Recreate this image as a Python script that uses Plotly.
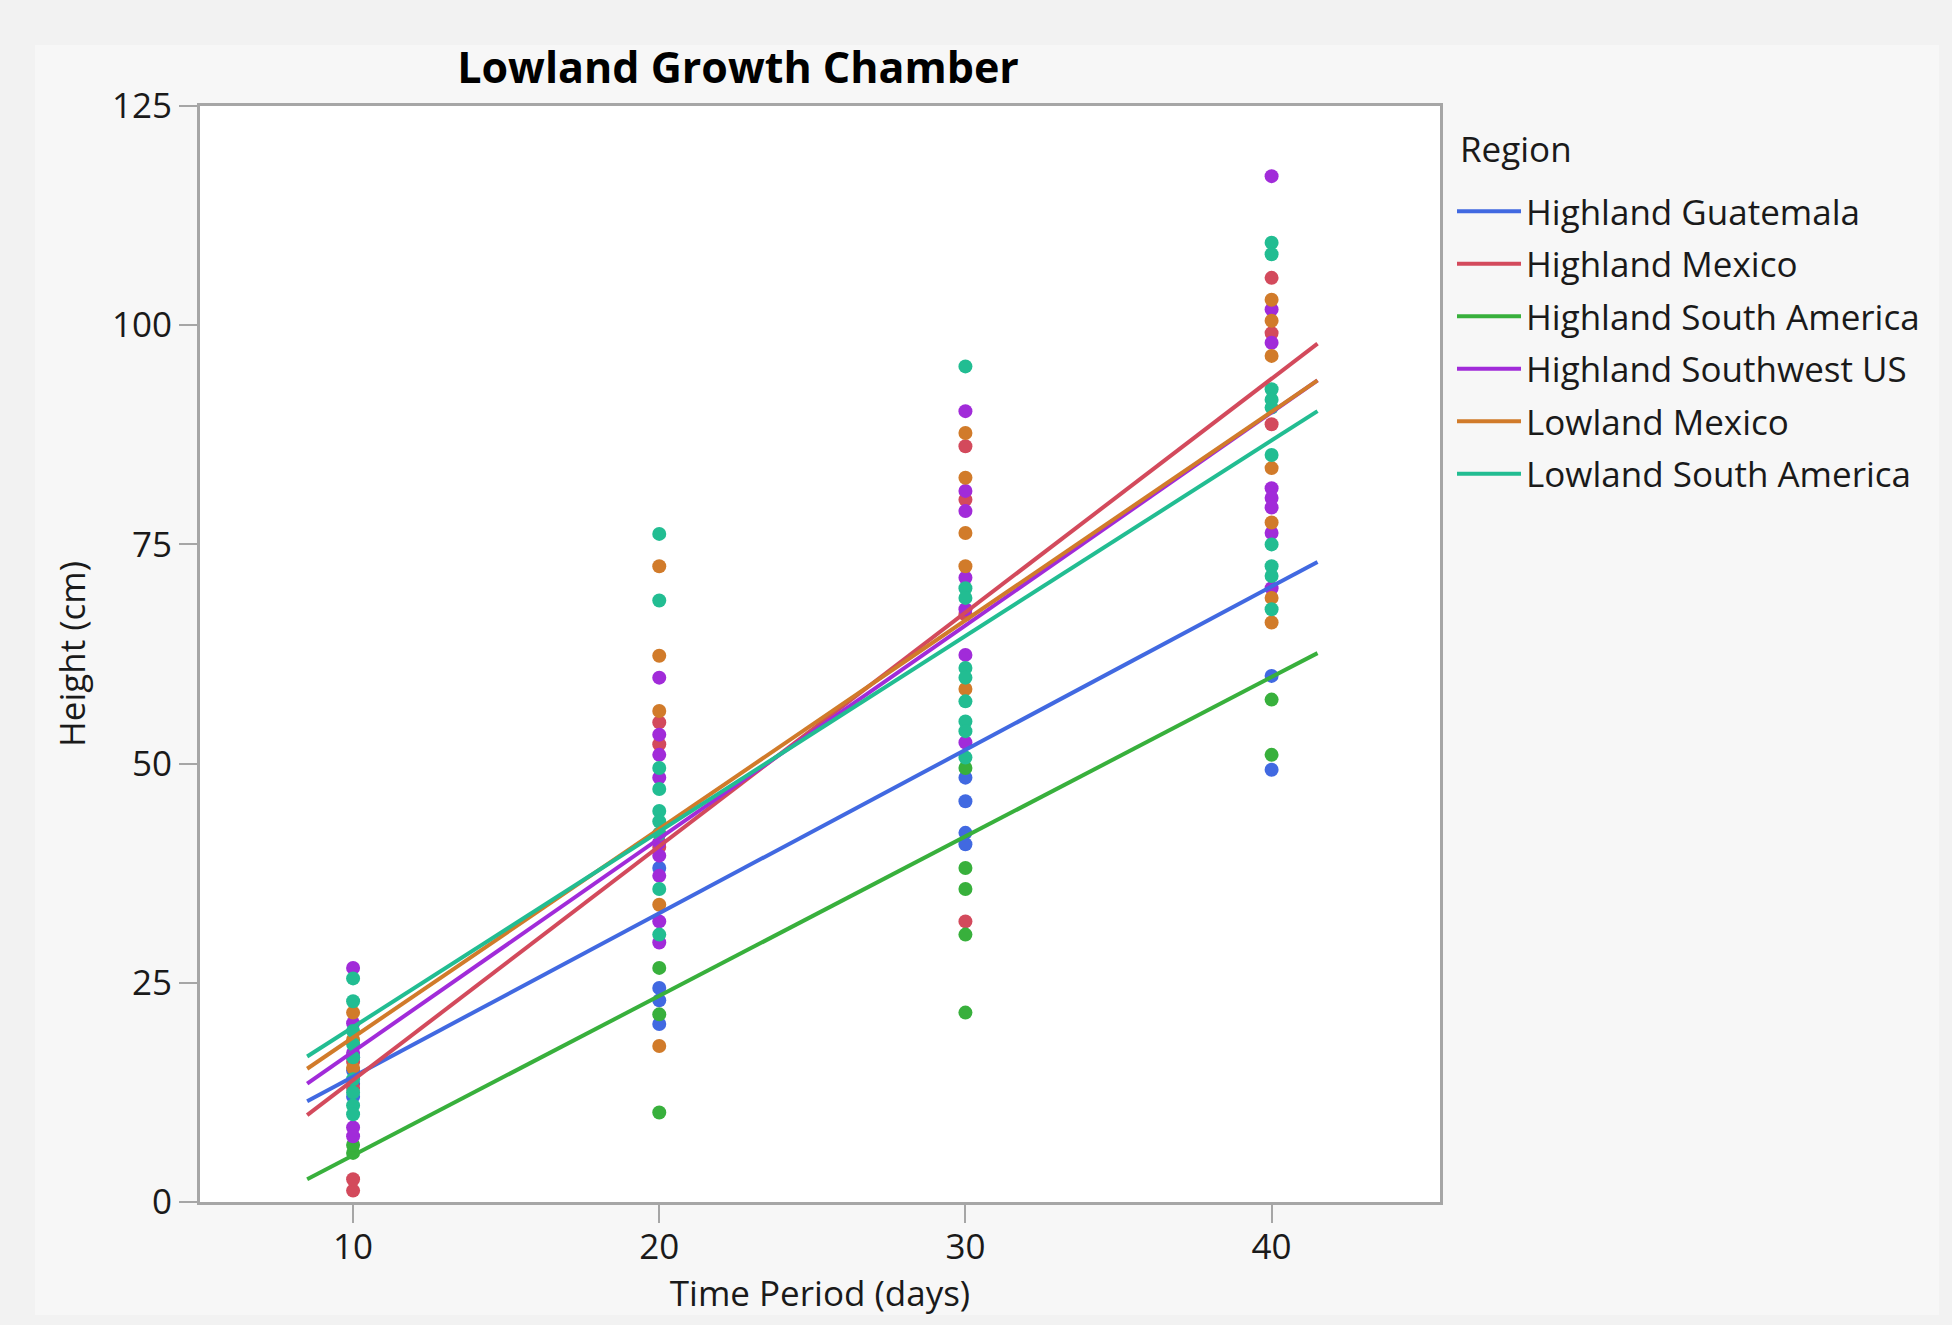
import plotly.graph_objects as go

# ---------------- data ----------------
regions = ["Highland Guatemala", "Highland Mexico", "Highland South America",
           "Highland Southwest US", "Lowland Mexico", "Lowland South America"]
colors = ["#4169e1", "#d34a5c", "#38b03c", "#a12bd9", "#d17b2a", "#22bd92"]

guatemala_x = [10, 10, 10, 10, 20, 20, 20, 20, 30, 30, 30, 30, 40, 40]
guatemala_y = [15.0, 13.5, 12.0, 16.5, 38.1, 24.4, 20.3, 23.0, 48.4, 45.7, 42.1, 40.8, 60.0, 49.3]

hmexico_x = [10, 10, 10, 10, 20, 20, 20, 30, 30, 30, 30, 40, 40, 40]
hmexico_y = [1.3, 2.6, 13.0, 16.0, 54.7, 52.2, 40.5, 86.2, 80.1, 67.0, 32.0, 105.4, 99.1, 88.7]

hsouth_x = [10, 10, 20, 20, 20, 30, 30, 30, 30, 30, 40, 40]
hsouth_y = [5.6, 6.5, 26.7, 21.4, 10.2, 49.5, 38.1, 35.7, 30.5, 21.6, 57.3, 51.0]

hswus_x = [10, 10, 10, 10, 10,
           20, 20, 20, 20, 20, 20, 20, 20, 20,
           30, 30, 30, 30, 30, 30, 30,
           40, 40, 40, 40, 40, 40, 40, 40]
hswus_y = [26.7, 20.4, 8.5, 7.5, 17.0,
           59.8, 53.3, 51.0, 48.4, 39.5, 37.2, 32.0, 29.6, 41.0,
           90.2, 81.1, 78.8, 71.2, 67.6, 62.4, 52.4,
           117.0, 101.8, 98.0, 81.4, 80.3, 79.2, 76.3, 70.0]

lmexico_x = [10, 10, 10,
             20, 20, 20, 20, 20, 20,
             30, 30, 30, 30, 30,
             40, 40, 40, 40, 40, 40, 40]
lmexico_y = [21.6, 15.3, 18.5,
             72.5, 62.3, 56.0, 33.9, 17.8, 42.0,
             87.7, 82.6, 76.3, 72.5, 58.5,
             102.9, 100.5, 96.5, 83.7, 77.5, 68.9, 66.1]

lsouth_x = [10, 10, 10, 10, 10, 10, 10, 10, 10,
            20, 20, 20, 20, 20, 20, 20, 20, 20,
            30, 30, 30, 30, 30, 30, 30, 30, 30,
            40, 40, 40, 40, 40, 40, 40, 40, 40, 40]
lsouth_y = [25.5, 22.9, 19.5, 18.0, 16.5, 14.0, 12.5, 11.0, 10.0,
            76.2, 68.6, 49.5, 47.1, 44.6, 43.4, 35.7, 30.5, 42.0,
            95.3, 70.0, 68.9, 60.9, 59.8, 57.1, 54.8, 53.7, 50.7,
            109.4, 108.1, 92.7, 91.5, 90.6, 85.2, 75.0, 72.5, 71.4, 67.6]

points_x = [guatemala_x, hmexico_x, hsouth_x, hswus_x, lmexico_x, lsouth_x]
points_y = [guatemala_y, hmexico_y, hsouth_y, hswus_y, lmexico_y, lsouth_y]

# fitted regression lines: value at start and end of fit range
fit_x = [8.5, 41.5]
fit_start = [11.5, 9.9, 2.6, 13.5, 15.2, 16.6]
fit_end = [73.0, 97.9, 62.6, 93.7, 93.7, 90.2]

x_ticks = [10, 20, 30, 40]
y_ticks = [0, 25, 50, 75, 100, 125]

# ---------------- figure ----------------
W, H = 1952, 1325
L, R, T, B = 200, 1440, 106, 1202
FONT = "Open Sans, Noto Sans, sans-serif"
FS = 35
TXT = "#1a1a1a"

fig = go.Figure()
for i, name in enumerate(regions):
    fig.add_trace(go.Scatter(
        x=points_x[i], y=points_y[i], mode="markers", name=name,
        legendgroup=name, showlegend=False,
        marker=dict(color=colors[i], size=14, line=dict(width=0)),
    ))
for i, name in enumerate(regions):
    fig.add_trace(go.Scatter(
        x=fit_x, y=[fit_start[i], fit_end[i]], mode="lines", name=name,
        legendgroup=name, showlegend=True,
        line=dict(color=colors[i], width=4),
    ))

def px2x(px):
    return (px - L) / (R - L)

def py2y(py):
    return (B - py) / (B - T)

strip = "#f2f2f2"
shapes = [
    dict(type="rect", xref="paper", yref="paper", x0=px2x(0), x1=px2x(W), y0=py2y(45), y1=py2y(0),
         fillcolor=strip, line=dict(width=0), layer="below"),
    dict(type="rect", xref="paper", yref="paper", x0=px2x(0), x1=px2x(35), y0=py2y(H), y1=py2y(0),
         fillcolor=strip, line=dict(width=0), layer="below"),
    dict(type="rect", xref="paper", yref="paper", x0=px2x(1939), x1=px2x(W), y0=py2y(H), y1=py2y(0),
         fillcolor=strip, line=dict(width=0), layer="below"),
    dict(type="rect", xref="paper", yref="paper", x0=px2x(0), x1=px2x(W), y0=py2y(H), y1=py2y(1315),
         fillcolor=strip, line=dict(width=0), layer="below"),
]

axis_common = dict(
    showgrid=False, zeroline=False, showline=True, mirror=True,
    linecolor="#a6a6a6", linewidth=3,
    ticks="outside", ticklen=18, tickwidth=2, tickcolor="#a6a6a6",
    tickfont=dict(family=FONT, size=FS, color=TXT),
)

fig.update_layout(
    width=W, height=H,
    margin=dict(l=L, r=W - R, t=T, b=H - B, autoexpand=False),
    paper_bgcolor="#f7f7f7", plot_bgcolor="#ffffff",
    font=dict(family=FONT, size=FS, color=TXT),
    title=dict(text="<b>Lowland Growth Chamber</b>", x=738 / W, xanchor="center",
               xref="container", yref="container", y=1 - 68 / H, yanchor="middle",
               font=dict(family=FONT, size=43, color="#000000")),
    xaxis=dict(range=[5, 45.5], tickvals=x_ticks, ticklabelstandoff=-6,
               title=dict(text="Time Period (days)", font=dict(family=FONT, size=FS, color=TXT),
                          standoff=2),
               **axis_common),
    yaxis=dict(range=[0, 125], tickvals=y_ticks,
               title=dict(text="Height (cm)", font=dict(family=FONT, size=FS, color=TXT),
                          standoff=16),
               **axis_common),
    legend=dict(x=px2x(1452), y=py2y(182), xanchor="left", yanchor="top",
                bgcolor="rgba(0,0,0,0)", font=dict(family=FONT, size=FS, color=TXT),
                itemwidth=64, tracegroupgap=4),
    annotations=[dict(text="Region", xref="paper", yref="paper", x=px2x(1458), y=py2y(149),
                      xanchor="left", yanchor="middle", showarrow=False,
                      font=dict(family=FONT, size=FS, color=TXT))],
    shapes=shapes,
    showlegend=True,
)

fig.write_html("out.html", config={"displayModeBar": False},
               post_script="document.body.style.margin='0px';")
